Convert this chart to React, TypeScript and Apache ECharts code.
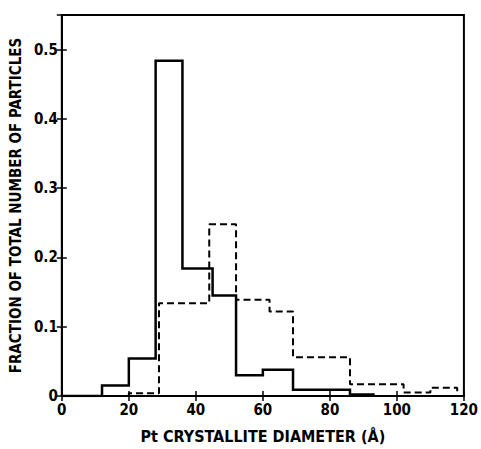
import React, { useEffect, useRef } from "react";
import * as echarts from "echarts";

// Solid histogram: bin edges and fractions
const solidEdges = [12, 20, 28, 36, 45, 52, 60, 69, 86, 93];
const solidValues = [0.015, 0.054, 0.484, 0.184, 0.145, 0.03, 0.038, 0.009, 0.002];
// Dashed histogram
const dashedEdges = [20, 29, 44, 52, 62, 69, 86, 102, 110, 118];
const dashedValues = [0.004, 0.134, 0.248, 0.139, 0.122, 0.056, 0.017, 0.005, 0.012];

const xTicks = [0, 20, 40, 60, 80, 100, 120];
const yTicks = [0, 0.1, 0.2, 0.3, 0.4, 0.5];

const FONT = "'DejaVu Sans Condensed', 'Liberation Sans Narrow', sans-serif";

function stepPoints(edges: number[], values: number[]): number[][] {
  const pts: number[][] = [[0, 0]];
  for (let i = 0; i < values.length; i++) pts.push([edges[i], values[i]]);
  pts.push([edges[edges.length - 1], 0]);
  return pts;
}

export default function App() {
  const ref = useRef<HTMLDivElement>(null);
  useEffect(() => {
    if (!ref.current) return;
    const chart = echarts.init(ref.current, null, { renderer: "svg" });
    const tickStyle = { show: true, inside: true, length: 5, lineStyle: { color: "#000", width: 1.5 } };
    chart.setOption({
      animation: false,
      backgroundColor: "#fff",
      grid: {
        left: 61,
        right: 10,
        top: 15,
        bottom: 49,
        show: true,
        borderColor: "#000",
        borderWidth: 2,
      },
      xAxis: [
        {
          type: "value",
          min: xTicks[0],
          max: xTicks[xTicks.length - 1],
          interval: 20,
          axisLine: { show: true, lineStyle: { color: "#000", width: 2 } },
          axisTick: tickStyle,
          splitLine: { show: false },
          axisLabel: {
            color: "#000",
            fontFamily: FONT,
            fontWeight: "bold",
            fontSize: 15,
            margin: 6,
          },
          name: "Pt CRYSTALLITE DIAMETER (Å)",
          nameLocation: "middle",
          nameGap: 32,
          nameTextStyle: {
            color: "#000",
            fontFamily: FONT,
            fontWeight: "bold",
            fontSize: 16,
          },
        },
        {
          type: "value",
          position: "top",
          min: 0,
          max: 120,
          interval: 20,
          axisLine: { show: false },
          axisTick: tickStyle,
          axisLabel: { show: false },
          splitLine: { show: false },
        },
      ],
      yAxis: [
        {
          type: "value",
          min: 0,
          max: 0.55,
          interval: 0.1,
          axisLine: { show: true, lineStyle: { color: "#000", width: 2 } },
          axisTick: tickStyle,
          splitLine: { show: false },
          axisLabel: {
            color: "#000",
            fontFamily: FONT,
            fontWeight: "bold",
            fontSize: 15,
            margin: 4,
            formatter: (v: number) => {
              const t = yTicks.find((y) => Math.abs(y - v) < 1e-6);
              if (t === undefined) return "";
              return t === 0 ? "0" : t.toFixed(1);
            },
          },
          name: "FRACTION OF TOTAL NUMBER OF PARTICLES",
          nameLocation: "middle",
          nameGap: 34,
          nameTextStyle: {
            color: "#000",
            fontFamily: FONT,
            fontWeight: "bold",
            fontSize: 15,
          },
        },
        {
          type: "value",
          position: "right",
          min: 0,
          max: 0.55,
          interval: 0.1,
          axisLine: { show: false },
          axisTick: tickStyle,
          axisLabel: { show: false },
          splitLine: { show: false },
        },
      ],
      series: [
        {
          type: "line",
          step: "end",
          data: stepPoints(solidEdges, solidValues),
          showSymbol: false,
          lineStyle: { color: "#000", width: 2.5, join: "miter", cap: "butt" },
          z: 3,
        },
        {
          type: "line",
          step: "end",
          data: stepPoints(dashedEdges, dashedValues),
          showSymbol: false,
          lineStyle: { color: "#000", width: 2, type: [7, 4] },
          z: 2,
        },
      ],
    });
    return () => chart.dispose();
  }, []);
  return (
    <div
      ref={ref}
      style={{ position: "fixed", left: 0, top: 0, width: 481, height: 449 }}
    />
  );
}
